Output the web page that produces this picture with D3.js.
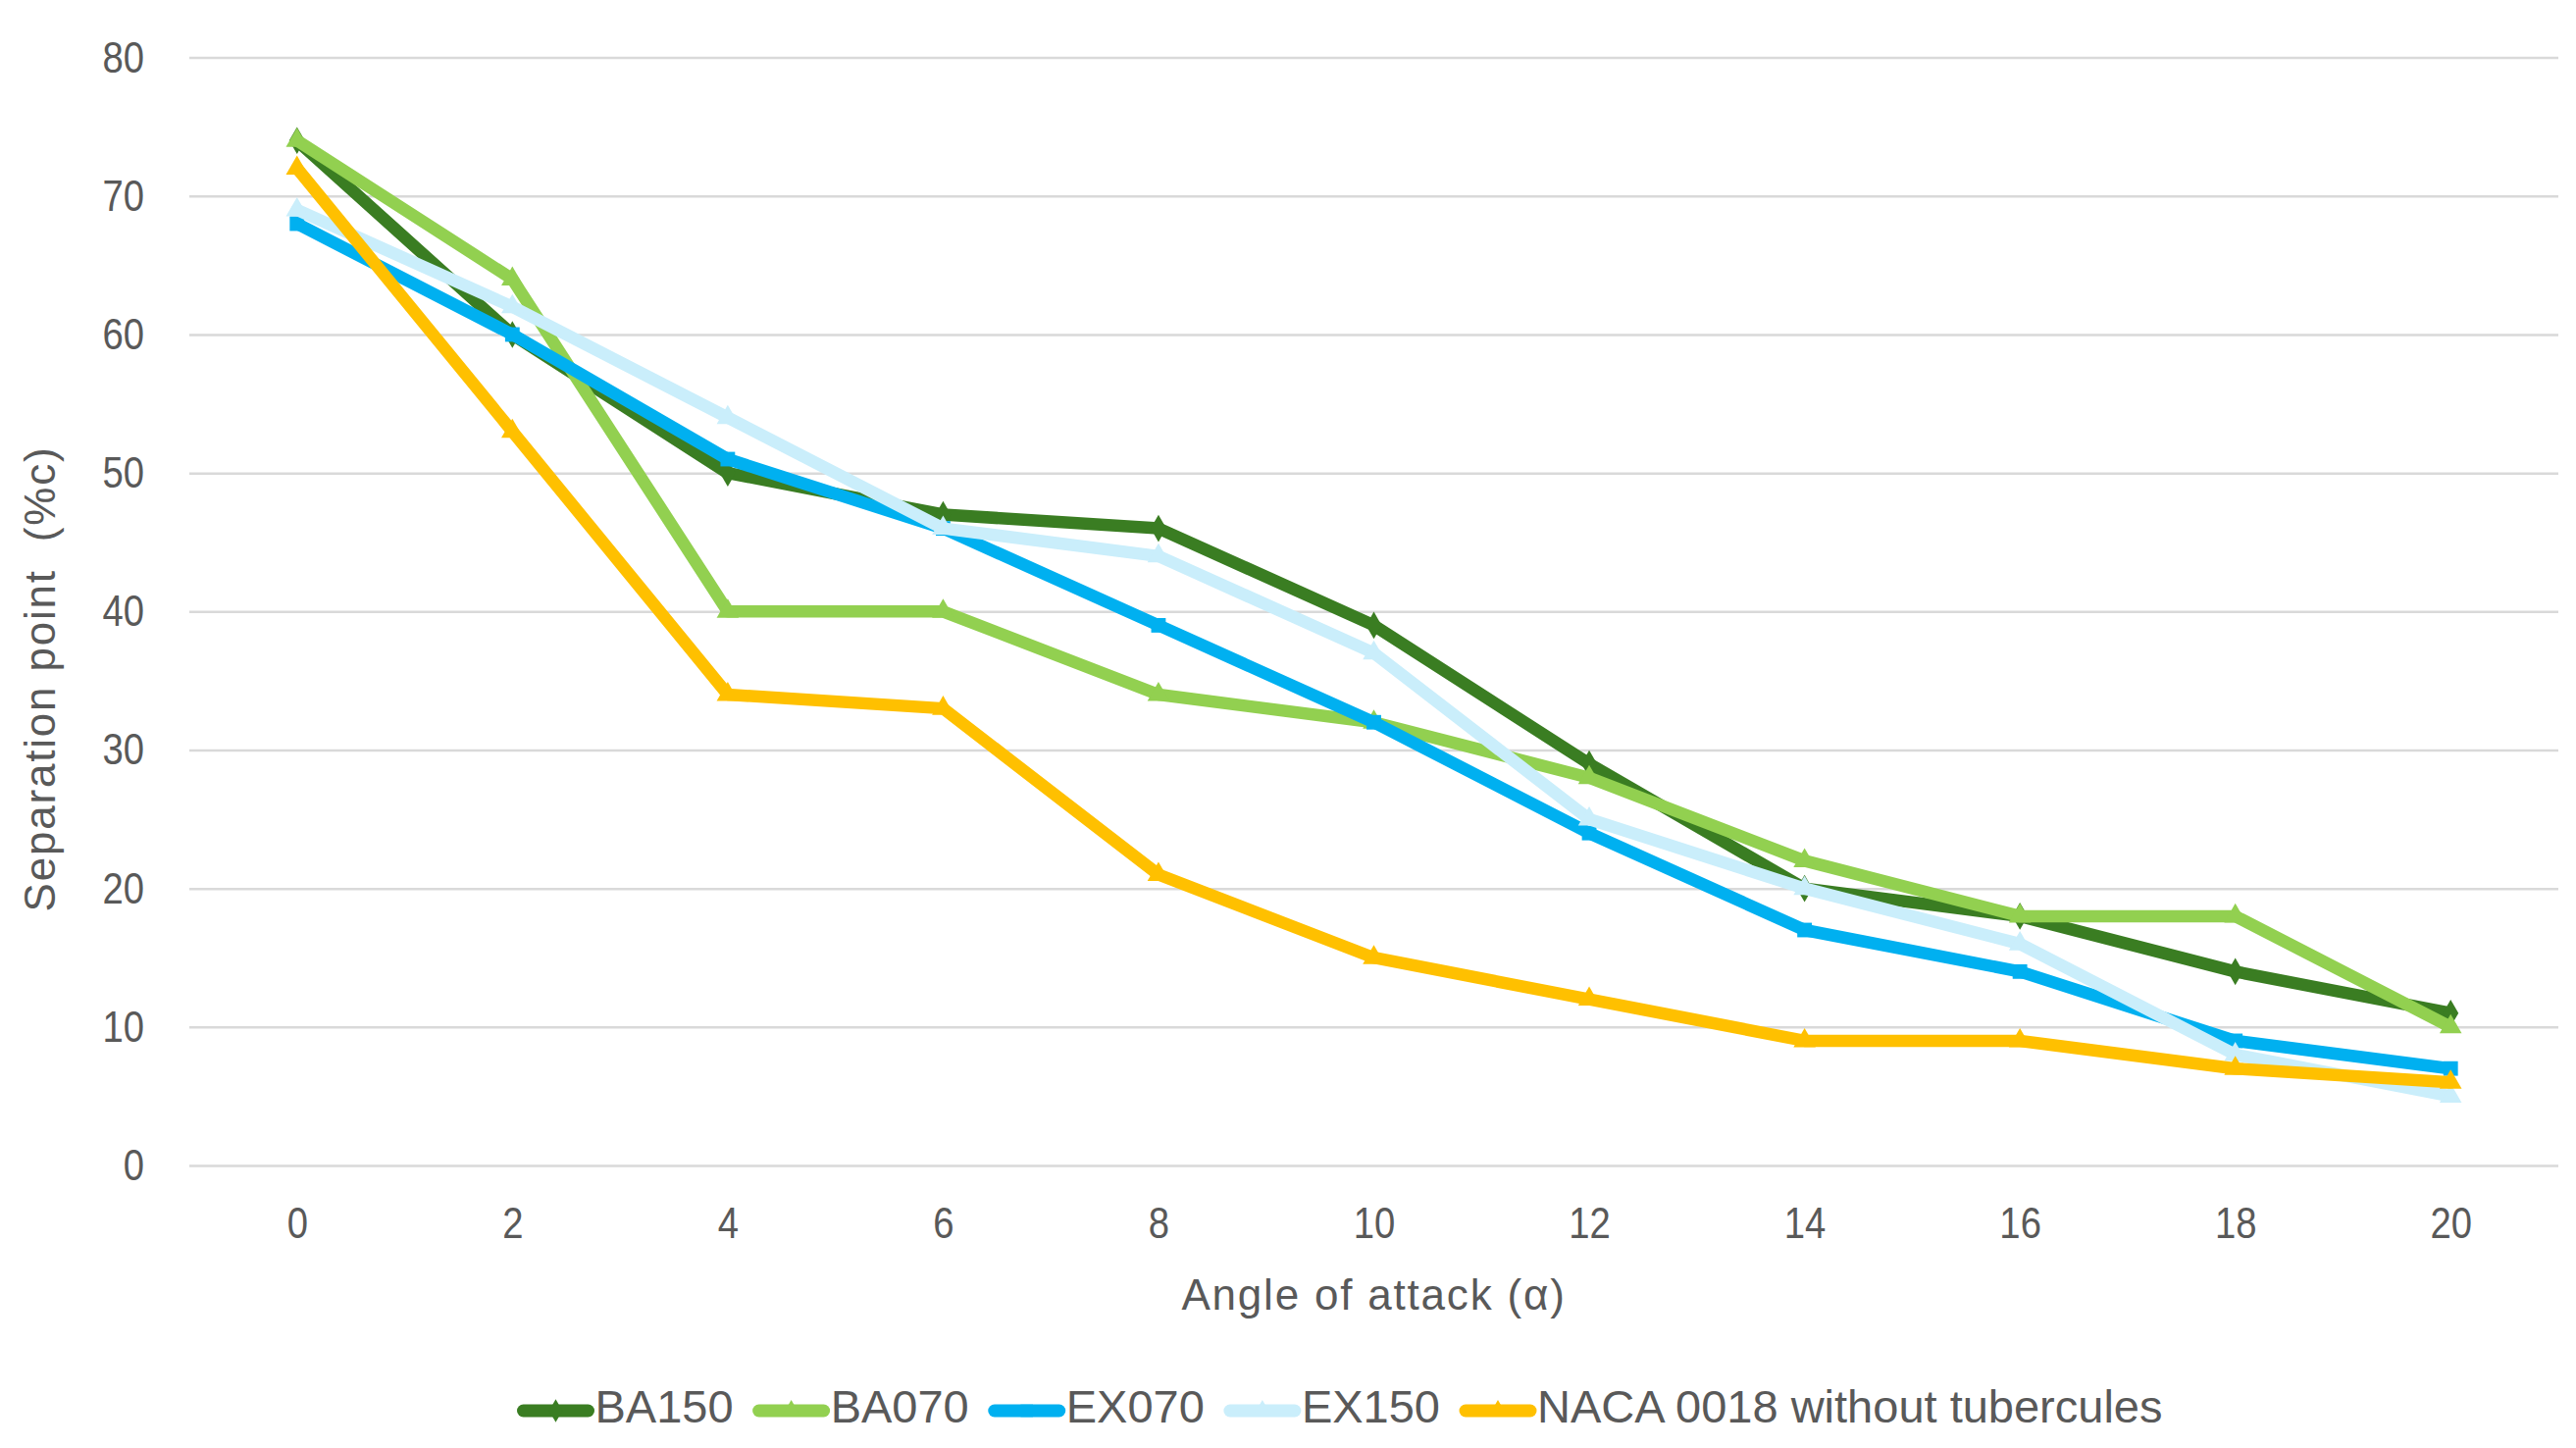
<!DOCTYPE html>
<html>
<head>
<meta charset="utf-8">
<script src="https://cdn.jsdelivr.net/npm/d3@7"></script>
<style>
html,body{margin:0;padding:0;background:#fff;}
svg{display:block;}
</style>
</head>
<body>
<svg id="chart" width="2626" height="1476"></svg>
<script>
const angles = [0, 2, 4, 6, 8, 10, 12, 14, 16, 18, 20];
const yTicks = [0, 10, 20, 30, 40, 50, 60, 70, 80];
const seriesNames = ["BA150", "BA070", "EX070", "EX150", "NACA 0018 without tubercules"];
const BA150 = [74, 60, 50, 47, 46, 39, 29, 20, 18, 14, 11];
const BA070 = [74, 64, 40, 40, 34, 32, 28, 22, 18, 18, 10];
const EX070 = [68, 60, 51, 46, 39, 32, 24, 17, 14, 9, 7];
const EX150 = [69, 62, 54, 46, 44, 37, 25, 20, 16, 8, 5];
const NACA = [72, 53, 34, 33, 21, 15, 12, 9, 9, 7, 6];
const colors = ["#3A7D22", "#92D050", "#00B0F0", "#CAEEFB", "#FFC000"];
const markerTypes = [d3.symbolDiamond, d3.symbolTriangle, d3.symbolSquare, d3.symbolTriangle, d3.symbolTriangle];
const xTitle = "Angle of attack (α)";
const yTitle = "Separation point  (%c)";

(function () {
const seriesValues = [BA150, BA070, EX070, EX150, NACA];
const series = seriesNames.map((n, i) => ({name: n, color: colors[i], symbol: markerTypes[i],
  values: angles.map((a, j) => ({x: a, y: seriesValues[i][j]}))}));

const svg = d3.select("#chart");
const pLeft = 193, pRight = 2608, pTop = 58.6, pBottom = 1188;
const font = "'Liberation Sans', Arial, sans-serif";
const textColor = "#595959";
const sx = 0.85;

const x = d3.scalePoint().domain(angles).range([pLeft, pRight]).padding(0.5);
const y = d3.scaleLinear().domain([0, 80]).range([pBottom, pTop]);

const yAxis = d3.axisLeft(y).tickValues(yTicks).tickSize(-(pRight - pLeft)).tickPadding(46).tickFormat(d3.format("d"));
const gy = svg.append("g").attr("transform", `translate(${pLeft},0)`).call(yAxis);
gy.select(".domain").remove();
gy.selectAll(".tick line").attr("stroke", "#D9D9D9").attr("stroke-width", 2.5);
gy.selectAll(".tick text").attr("fill", textColor).style("font-family", font).style("font-size", "45px")
  .attr("x", function() { return +d3.select(this).attr("x") / sx; })
  .attr("transform", `scale(${sx},1)`);

const xAxis = d3.axisBottom(x).tickSize(0).tickPadding(42);
const gx = svg.append("g").attr("transform", `translate(0,${pBottom})`).call(xAxis);
gx.select(".domain").remove();
gx.selectAll(".tick text").attr("fill", textColor).style("font-family", font).style("font-size", "45px")
  .attr("transform", `scale(${sx},1)`);

const line = d3.line().x(d => x(d.x)).y(d => y(d.y));
const sg = svg.append("g").selectAll("g.s").data(series).join("g").attr("class", "s");
sg.append("path")
  .attr("d", d => line(d.values))
  .attr("fill", "none")
  .attr("stroke", d => d.color)
  .attr("stroke-width", 12.5)
  .attr("stroke-linejoin", "round")
  .attr("stroke-linecap", "round");
sg.each(function(s) {
  d3.select(this).selectAll("path.m").data(s.values).join("path").attr("class", "m")
    .attr("transform", d => `translate(${x(d.x)},${y(d.y)})`)
    .attr("d", d3.symbol().type(s.symbol).size(220))
    .attr("fill", s.color);
});

svg.append("text").attr("x", (pLeft + pRight) / 2).attr("y", 1323).attr("text-anchor", "middle")
  .attr("dominant-baseline", "middle").attr("fill", textColor)
  .style("font-family", font).style("font-size", "44px").style("letter-spacing", "1.8px").text(xTitle);
svg.append("text").attr("transform", "translate(44,692) rotate(-90)").attr("text-anchor", "middle")
  .attr("dominant-baseline", "middle").attr("fill", textColor)
  .style("font-family", font).style("font-size", "44px").style("letter-spacing", "1.8px")
  .style("white-space", "pre").attr("xml:space", "preserve").text(yTitle);

const lg = svg.append("g");
const items = lg.selectAll("g.li").data(series).join("g").attr("class", "li");
items.append("line").attr("x1", 6).attr("x2", 72).attr("y1", 0).attr("y2", 0)
  .attr("stroke", d => d.color).attr("stroke-width", 13).attr("stroke-linecap", "round");
items.append("path").attr("transform", "translate(39,0)").attr("d", d => d3.symbol().type(d.symbol).size(160)())
  .attr("fill", d => d.color);
items.append("text").attr("x", 79).attr("y", 0).attr("dominant-baseline", "middle").attr("fill", textColor)
  .style("font-family", font).style("font-size", "47px").text(d => d.name);
let cx = 0;
const gap = 26;
items.each(function() {
  const w = this.getBBox().width;
  d3.select(this).attr("transform", `translate(${cx},0)`);
  cx += w + gap;
});
const total = cx - gap;
lg.attr("transform", `translate(${1363 - total / 2},1438)`);
})();
</script>
</body>
</html>
